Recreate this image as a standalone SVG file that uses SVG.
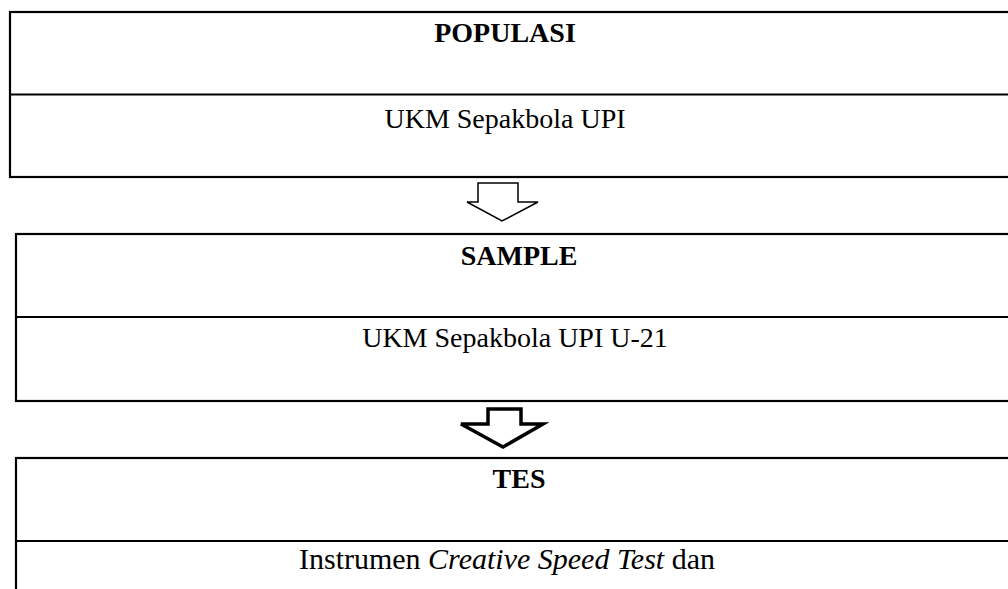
<svg xmlns="http://www.w3.org/2000/svg" width="1008" height="589" viewBox="0 0 1008 589">
<style>
.box{fill:#fff;stroke:#000;stroke-width:2.2}
.div{stroke:#000;stroke-width:2.2}
.h{font-family:"Liberation Serif","Times New Roman",serif;font-size:28px;font-weight:bold;text-anchor:middle;fill:#000}
.t{font-family:"Liberation Serif","Times New Roman",serif;font-size:28px;text-anchor:middle;fill:#000}
.arr{fill:#fff;stroke:#000;stroke-linejoin:miter}
</style>
<rect width="1008" height="589" fill="#fff"/>
<g id="populasi">
<rect class="box" x="10" y="12" width="1010" height="165"/>
<line class="div" x1="10" y1="94.5" x2="1020" y2="94.5"/>
<text class="h" x="505" y="42">POPULASI</text>
<text class="t" x="505" y="128">UKM Sepakbola UPI</text>
</g>
<g id="sample">
<rect class="box" x="16" y="234" width="1004" height="167"/>
<line class="div" x1="16" y1="317" x2="1020" y2="317"/>
<text class="h" x="519" y="265">SAMPLE</text>
<text class="t" x="515" y="347">UKM Sepakbola UPI U-21</text>
</g>
<g id="tes">
<rect class="box" x="16" y="458" width="1004" height="150"/>
<line class="div" x1="16" y1="541" x2="1020" y2="541"/>
<text class="h" x="519" y="488">TES</text>
<text class="t" x="507" y="569" style="font-size:30px">Instrumen <tspan font-style="italic">Creative Speed Test</tspan> dan</text>
</g>
<g id="connectors">
<path class="arr" stroke-width="1.5" d="M478 183 H518 V202 H538 L502 221 L467 202 H478 Z"/>
<path class="arr" stroke-width="3.5" d="M488 409 H521 V424 H543 L503 447 L461 424 H488 Z"/>
</g>
</svg>
